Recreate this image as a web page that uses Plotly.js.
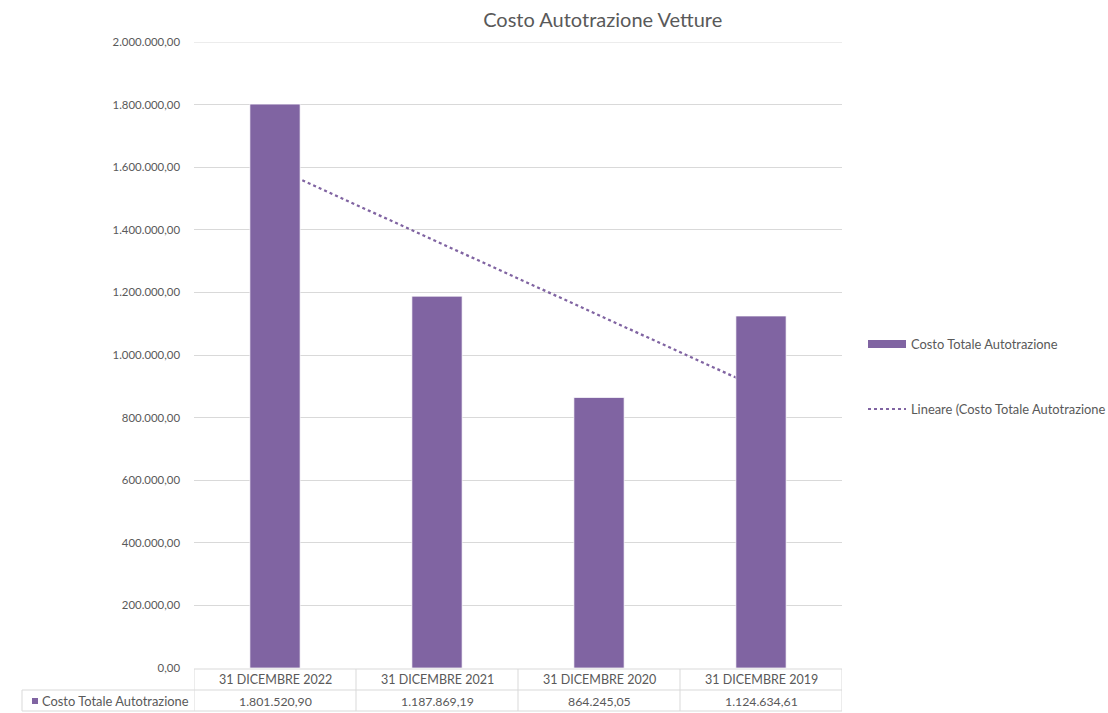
<!DOCTYPE html>
<html>
<head>
<meta charset="utf-8">
<script src="https://cdn.plot.ly/plotly-3.0.1.min.js"></script>
<style>html,body{margin:0;padding:0;background:#fff;}#chart{width:1108px;height:713px;}</style>
</head>
<body>
<div id="chart"></div>
<script>
const categories = ['31 DICEMBRE 2022', '31 DICEMBRE 2021', '31 DICEMBRE 2020', '31 DICEMBRE 2019'];
const costValues = [1801520.90, 1187869.19, 864245.05, 1124634.61];
const valueLabels = ['1.801.520,90', '1.187.869,19', '864.245,05', '1.124.634,61'];
const seriesName = 'Costo Totale Autotrazione';
const trendName = 'Lineare (Costo Totale Autotrazione';
const chartTitle = 'Costo Autotrazione Vetture';

// linear regression (Excel linear trendline) over category index
const n = costValues.length;
const xs = costValues.map((_, i) => i + 1);
const mx = xs.reduce((a, b) => a + b, 0) / n;
const my = costValues.reduce((a, b) => a + b, 0) / n;
let sxy = 0, sxx = 0;
for (let i = 0; i < n; i++) { sxy += (xs[i] - mx) * (costValues[i] - my); sxx += (xs[i] - mx) ** 2; }
const slope = sxy / sxx, intercept = my - slope * mx;
const trendValues = xs.map(x => intercept + slope * x);

const W = 1108, H = 713;
const L = 194, R = 842, T = 42, B = 668;
const pw = R - L, ph = B - T;
const px = x => (x - L) / pw;
const py = y => (B - y) / ph;
const grey = '#595959';
const border = '#d9d9d9';
const purple = '#8064a2';
const font = 'Lato, "Open Sans", sans-serif';
const yMax = 2000000;

const traces = [
  { type: 'scatter', mode: 'lines', x: categories, y: trendValues, xaxis: 'x', yaxis: 'y',
    line: { color: purple, width: 2.25, dash: 'dot' }, name: trendName, showlegend: false, hoverinfo: 'skip' },
  { type: 'bar', x: categories, y: costValues, xaxis: 'x2', yaxis: 'y2', width: 0.31,
    marker: { color: purple, line: { color: 'rgba(255,255,255,0.7)', width: 1 } }, name: seriesName, showlegend: false }
];

const shapes = [];
const annotations = [];
const line = (x0, y0, x1, y1) => shapes.push({ type: 'line', xref: 'paper', yref: 'paper', x0, y0, x1, y1, line: { color: border, width: 1 } });

// top gridline at the axis maximum (Plotly skips the edge gridline)
shapes.push({ type: 'line', xref: 'paper', yref: 'y', x0: 0, x1: 1, y0: yMax, y1: yMax, layer: 'below', line: { color: border, width: 1 } });

// table borders
const yTop = py(669), yMid = py(690), yBot = py(711);
line(0, yTop, 1, yTop);
line(px(22), yMid, 1, yMid);
line(px(22), yBot, 1, yBot);
line(px(22), yMid, px(22), yBot);
for (let i = 0; i <= n; i++) {
  shapes.push({ type: 'line', xref: 'x', yref: 'paper', x0: i - 0.5, x1: i - 0.5, y0: yTop, y1: yBot, line: { color: border, width: 1 } });
}
categories.forEach((c, i) => {
  annotations.push({ xref: 'x', yref: 'paper', x: c, y: py(679.5), text: c, showarrow: false, xanchor: 'center', yanchor: 'middle', font: { family: font, size: 12.5, color: grey } });
  annotations.push({ xref: 'x', yref: 'paper', x: c, y: py(701), text: valueLabels[i], showarrow: false, xanchor: 'center', yanchor: 'middle', font: { family: font, size: 12.3, color: grey } });
});
// table row key
shapes.push({ type: 'rect', xref: 'paper', yref: 'paper', x0: px(32), x1: px(38), y0: py(704), y1: py(698), fillcolor: purple, line: { width: 0 } });
annotations.push({ xref: 'paper', yref: 'paper', x: px(40), y: py(701), text: seriesName, showarrow: false, xanchor: 'left', yanchor: 'middle', font: { family: font, size: 12.9, color: grey } });

// legend (manual)
shapes.push({ type: 'rect', xref: 'paper', yref: 'paper', x0: px(868), x1: px(906), y0: py(348), y1: py(340), fillcolor: purple, line: { width: 0 } });
annotations.push({ xref: 'paper', yref: 'paper', x: px(909), y: py(344), text: seriesName, showarrow: false, xanchor: 'left', yanchor: 'middle', font: { family: font, size: 12.9, color: grey } });
shapes.push({ type: 'line', xref: 'paper', yref: 'paper', x0: px(868), x1: px(906), y0: py(409), y1: py(409), line: { color: purple, width: 2, dash: 'dot' } });
annotations.push({ xref: 'paper', yref: 'paper', x: px(909), y: py(409), text: trendName, showarrow: false, xanchor: 'left', yanchor: 'middle', font: { family: font, size: 12.9, color: grey } });

const layout = {
  width: W, height: H,
  margin: { l: L, r: W - R, t: T, b: H - B, pad: 0 },
  paper_bgcolor: '#ffffff', plot_bgcolor: '#ffffff',
  separators: ',.',
  showlegend: false,
  font: { family: font, color: grey, size: 11 },
  title: { text: chartTitle, font: { family: font, size: 20, color: grey }, xref: 'container', x: 0.544, xanchor: 'center', yref: 'container', y: 1 - 20 / H, yanchor: 'middle' },
  xaxis: { type: 'category', range: [-0.5, 3.5], showticklabels: false, showgrid: false, zeroline: false, showline: false, ticks: '', fixedrange: true },
  yaxis: { range: [0, yMax], dtick: 200000, tick0: 0, tickformat: ',.2f', gridcolor: border, gridwidth: 1, zeroline: false, showline: false, ticks: '', ticklabelstandoff: 13, tickfont: { family: font, size: 11.4, color: grey } },
  xaxis2: { type: 'category', overlaying: 'x', range: [-0.5, 3.5], showticklabels: false, showgrid: false, zeroline: false, showline: false, ticks: '' },
  yaxis2: { overlaying: 'y', range: [0, yMax], showticklabels: false, showgrid: false, zeroline: false, showline: false, ticks: '' },
  shapes, annotations
};

Plotly.newPlot('chart', traces, layout, { displayModeBar: false, staticPlot: true });
</script>
</body>
</html>
